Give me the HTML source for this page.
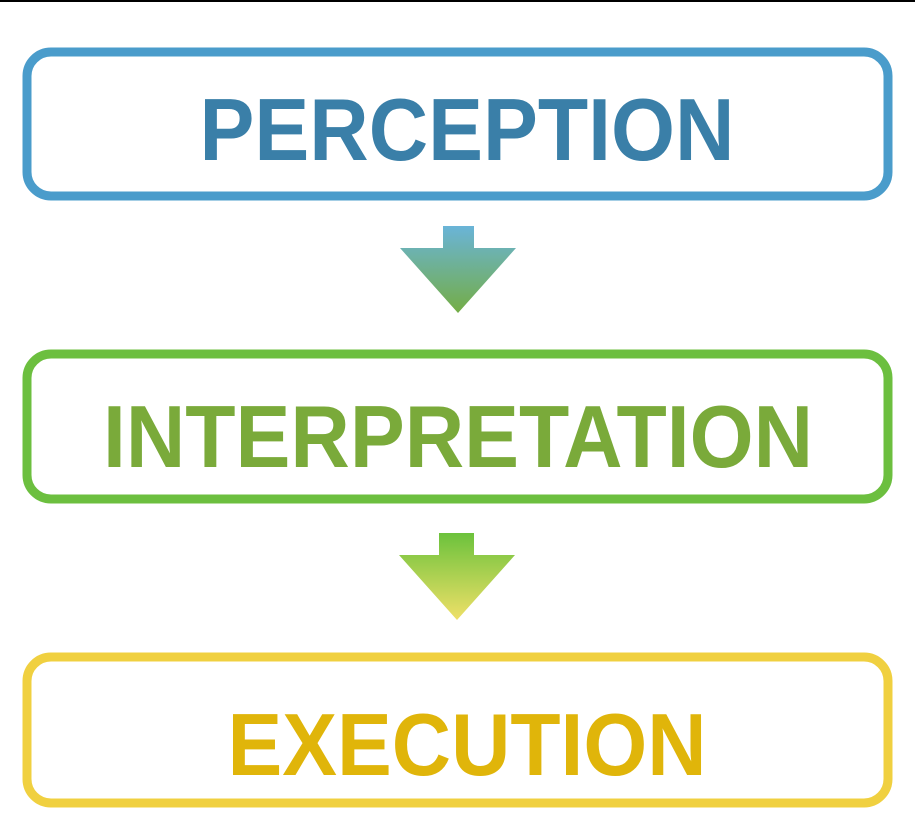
<!DOCTYPE html>
<html><head><style>
html,body{margin:0;padding:0;background:#fff;width:915px;height:835px;overflow:hidden}
svg{display:block}
text{font-family:"Liberation Sans",sans-serif;font-weight:bold}
</style></head><body>
<svg width="915" height="835" viewBox="0 0 915 835">
<defs>
<linearGradient id="g1" x1="0" y1="0" x2="0" y2="1">
<stop offset="0" stop-color="#6ab4d8"/><stop offset="1" stop-color="#74ad45"/></linearGradient>
<linearGradient id="g2" x1="0" y1="0" x2="0" y2="1">
<stop offset="0" stop-color="#6cc23c"/><stop offset="1" stop-color="#efe068"/></linearGradient>
</defs>
<rect x="0" y="0" width="915" height="2" fill="#000"/>
<rect x="27" y="52" width="861" height="144" rx="24" fill="#fff" stroke="#4a9ccb" stroke-width="9"/>
<text x="467" y="160" text-anchor="middle" font-size="88" fill="#3a7fa8" textLength="535" lengthAdjust="spacingAndGlyphs">PERCEPTION</text>
<path d="M443 226H474V248H516L458 313L400 248H443Z" fill="url(#g1)"/>
<rect x="27" y="354" width="861" height="145" rx="24" fill="#fff" stroke="#6cbf3f" stroke-width="9"/>
<text x="458" y="467" text-anchor="middle" font-size="88" fill="#7aaa3a" textLength="710" lengthAdjust="spacingAndGlyphs">INTERPRETATION</text>
<path d="M439 533H474V555H515L457 620L399 555H439Z" fill="url(#g2)"/>
<rect x="27" y="657" width="861" height="146" rx="24" fill="#fff" stroke="#f0d040" stroke-width="9"/>
<text x="467" y="775" text-anchor="middle" font-size="88" fill="#e0b50a" textLength="479" lengthAdjust="spacingAndGlyphs">EXECUTION</text>
</svg>
</body></html>
